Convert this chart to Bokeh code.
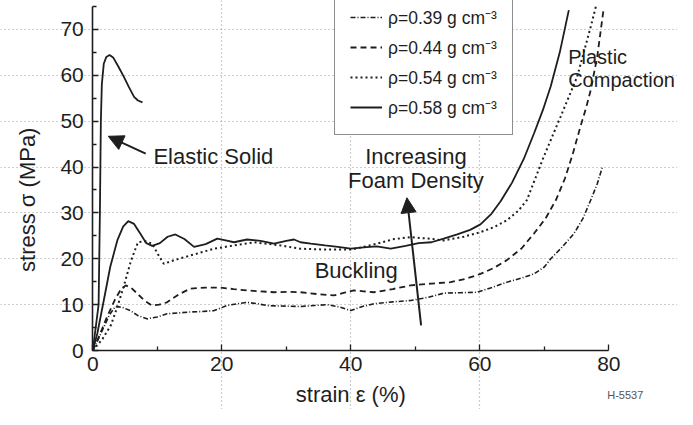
from bokeh.plotting import figure
from bokeh.models import (Range1d, FixedTicker, Legend, LegendItem, Label, Arrow, NormalHead)
from bokeh.embed import file_html
from bokeh.resources import INLINE
import math

# ---------------- data ----------------
strain_039 = [0, 0.8, 1.7, 2.6, 3.5, 4.6, 5.8, 7.0, 8.4, 10.0, 11.5, 13.3, 15.1, 17.0, 18.8, 20.8, 22.4,
              23.9, 25.5, 27.0, 29.1, 32.2, 34.3, 36.3, 38.2, 40.0, 41.8, 43.6, 46.5, 49.3, 52.0, 54.4,
              57.0, 59.6, 62.0, 64.2, 66.5, 68.4, 70.0, 71.0, 72.8, 74.6, 76.0, 77.2, 78.2, 79.0]
stress_039 = [0, 2.3, 5.1, 7.8, 9.6, 9.4, 8.7, 7.6, 6.9, 7.3, 8.0, 8.2, 8.4, 8.5, 8.7, 9.8, 10.2,
              10.5, 10.2, 9.8, 9.7, 9.6, 9.8, 10.0, 9.5, 8.7, 9.6, 10.2, 10.6, 10.9, 11.6, 12.5,
              12.6, 12.7, 13.8, 14.9, 15.8, 16.7, 18.2, 20.0, 22.6, 25.5, 28.8, 32.8, 36.3, 40.0]

strain_044 = [0, 1.0, 2.2, 3.4, 4.3, 5.1, 6.0, 6.9, 8.0, 9.2, 10.3, 11.5, 13.3, 15.1, 17.5, 19.8, 21.8,
              23.9, 26.0, 28.1, 30.2, 32.2, 34.8, 37.4, 39.0, 40.5, 42.0, 43.6, 46.5, 49.3, 52.5, 55.5,
              58.0, 60.1, 62.2, 64.2, 66.5, 68.4, 70.2, 71.8, 73.2, 74.4, 75.6, 76.5, 77.2, 78.2, 79.2]
stress_044 = [0, 3.2, 7.3, 11.0, 13.2, 14.2, 13.6, 12.4, 10.9, 9.8, 10.0, 10.5, 12.2, 13.5, 13.7, 13.7, 13.4,
              13.1, 12.9, 12.7, 12.8, 12.7, 12.3, 12.0, 12.6, 13.1, 12.9, 12.7, 13.4, 14.2, 14.6, 14.9,
              15.7, 16.7, 18.0, 19.7, 22.3, 25.5, 28.8, 32.8, 37.5, 42.8, 48.8, 53.0, 56.8, 64.0, 74.5]

strain_054 = [0, 1.5, 2.8, 3.8, 4.8, 5.9, 7.0, 8.2, 9.2, 10.1, 11.0, 12.6, 15.1, 18.8, 21.9, 25.0, 29.1,
              32.2, 36.0, 40.0, 42.0, 44.1, 46.7, 49.3, 52.0, 54.4, 57.5, 60.1, 62.2, 64.2, 66.0, 67.3,
              69.9, 72.5, 75.1, 77.2, 78.0]
stress_054 = [0, 2.5, 5.5, 9.5, 14.0, 19.5, 23.6, 23.8, 23.3, 21.0, 18.9, 19.7, 20.7, 22.2, 22.9, 23.6, 22.9,
              22.2, 22.0, 22.0, 22.6, 23.3, 24.3, 24.7, 24.4, 24.0, 24.8, 25.8, 26.9, 28.4, 30.5, 32.8,
              42.2, 50.9, 59.7, 70.6, 75.0]

strain_058 = [0, 0.7, 1.7, 2.7, 3.8, 4.7, 5.5, 6.4, 7.4, 8.3, 9.2, 10.4, 11.6, 12.8, 14.2, 15.7, 17.5,
              19.3, 20.6, 21.9, 23.9, 26.0, 28.1, 30.0, 31.2, 32.2, 33.8, 36.0, 38.0, 40.0, 42.0, 44.0,
              46.2, 48.5, 50.5, 52.5, 54.4, 56.5, 58.5, 60.1, 61.8, 63.2, 65.0, 66.8, 68.4, 69.8, 71.0,
              72.4, 73.8]
stress_058 = [0, 3.7, 10.9, 18.2, 24.0, 27.0, 28.2, 27.6, 25.4, 23.4, 22.8, 23.4, 24.8, 25.3, 24.3, 22.6, 23.2,
              24.4, 24.0, 23.6, 24.2, 23.9, 23.3, 23.9, 24.2, 23.6, 23.3, 22.9, 22.6, 22.2, 22.5, 22.7,
              22.2, 22.8, 23.4, 23.6, 24.4, 25.3, 26.3, 27.5, 29.8, 32.5, 36.6, 41.7, 47.3, 52.5, 57.6,
              65.0, 74.2]

elastic_strain = [0, 0.9, 1.1, 1.25, 1.4, 1.7, 2.1, 2.6, 3.2, 4.0, 4.8, 5.6, 6.4, 7.0, 7.7]
elastic_stress = [0, 10, 30, 50, 58, 62.5, 64.0, 64.4, 63.8, 61.8, 59.7, 57.4, 55.3, 54.5, 54.1]

x_ticks = [0, 20, 40, 60, 80]
x_minor = [10, 30, 50, 70]
y_ticks = [0, 10, 20, 30, 40, 50, 60, 70]
y_minor = [5, 15, 25, 35, 45, 55, 65, 75]

labels = ["ρ=0.39 g cm⁻³", "ρ=0.44 g cm⁻³", "ρ=0.54 g cm⁻³", "ρ=0.58 g cm⁻³"]

# ---------------- figure ----------------
FONT = "Liberation Sans"
INK = "#1e1e1e"

# the frame covers the whole canvas; the axes are pinned at zero
p = figure(width=677, height=409, output_backend="svg", toolbar_location=None,
           x_range=Range1d(-14.31, 90.65), y_range=Range1d(-12.86, 76.3),
           min_border_left=0, min_border_right=0, min_border_top=0, min_border_bottom=0)
p.outline_line_color = None
p.background_fill_color = "white"
p.border_fill_color = "white"

for ax, ticks, minor, bounds in ((p.xaxis[0], x_ticks, x_minor, (0, 80)),
                                 (p.yaxis[0], y_ticks, y_minor, (0, 75))):
    ax.fixed_location = 0
    ax.ticker = FixedTicker(ticks=ticks, minor_ticks=minor)
    ax.bounds = bounds
    ax.axis_line_color = INK
    ax.axis_line_width = 1.6
    ax.major_tick_line_color = INK
    ax.minor_tick_line_color = INK
    ax.major_tick_line_width = 1.3
    ax.minor_tick_line_width = 1.3
    ax.major_tick_in = 6
    ax.major_tick_out = 0
    ax.minor_tick_in = 4
    ax.minor_tick_out = 0
    ax.major_label_text_font = FONT
    ax.major_label_text_font_size = "21px"
    ax.major_label_text_color = INK
p.yaxis[0].major_label_standoff = 9
p.xaxis[0].major_label_standoff = 6

p.xgrid.ticker = FixedTicker(ticks=[20, 40, 60])
p.ygrid.ticker = FixedTicker(ticks=[10, 20, 30, 40, 50, 60, 70])
p.xgrid.bounds = (0, 75)
p.ygrid.bounds = (0, 80)
for g in (p.xgrid[0], p.ygrid[0]):
    g.grid_line_color = "#9a9a9a"
    g.grid_line_width = 1.2
    g.grid_line_dash = "1 3"

# ---------------- curves ----------------
r39 = p.line(strain_039, stress_039, line_color=INK, line_width=1.6, line_dash="5 2 1 2")
r44 = p.line(strain_044, stress_044, line_color=INK, line_width=1.8, line_dash="6 4")
r54 = p.line(strain_054, stress_054, line_color=INK, line_width=2.0, line_dash="2 3")
r58 = p.line(strain_058, stress_058, line_color=INK, line_width=1.8)
p.line(elastic_strain, elastic_stress, line_color=INK, line_width=1.8)

legend = Legend(items=[LegendItem(label=labels[0], renderers=[r39]),
                       LegendItem(label=labels[1], renderers=[r44]),
                       LegendItem(label=labels[2], renderers=[r54]),
                       LegendItem(label=labels[3], renderers=[r58])],
                location=(334, 274), margin=0, padding=15, spacing=6,
                glyph_width=32, glyph_height=20, label_height=20, label_standoff=6,
                label_width=103,
                label_text_font=FONT, label_text_font_size="17.5px", label_text_color=INK,
                border_line_color=INK, border_line_width=1.2,
                background_fill_color="white", background_fill_alpha=1.0)
p.add_layout(legend)

# ---------------- texts ----------------
def lab(x, y, text, size="22px", align="left", color=INK, angle=0.0):
    p.add_layout(Label(x=x, y=y, text=text, text_font=FONT, text_font_size=size,
                       text_color=color, text_align=align, text_baseline="middle", angle=angle))

lab(9.4, 42.4, "Elastic Solid")
lab(50.1, 42.2, "Increasing", align="center")
lab(50.1, 37.1, "Foam Density", align="center")
lab(34.4, 17.5, "Buckling")
lab(73.7, 64.0, "Plastic", size="20px")
lab(73.7, 59.0, "Compaction", size="20px")
lab(40.0, -9.6, "strain ε (%)", align="center")
lab(-10.05, 34.2, "stress  σ  (MPa)", align="center", angle=math.pi / 2)
lab(79.75, -9.8, "H-5537", size="11px", color="#555555")

p.add_layout(Arrow(end=NormalHead(size=15, fill_color=INK, line_color=INK),
                   x_start=8.2, y_start=42.9, x_end=2.4, y_end=46.7,
                   line_color=INK, line_width=2))
p.add_layout(Arrow(end=NormalHead(size=15, fill_color=INK, line_color=INK),
                   x_start=50.9, y_start=5.5, x_end=48.7, y_end=33.3,
                   line_color=INK, line_width=2))

open("out.html", "w").write(file_html(p, INLINE))
